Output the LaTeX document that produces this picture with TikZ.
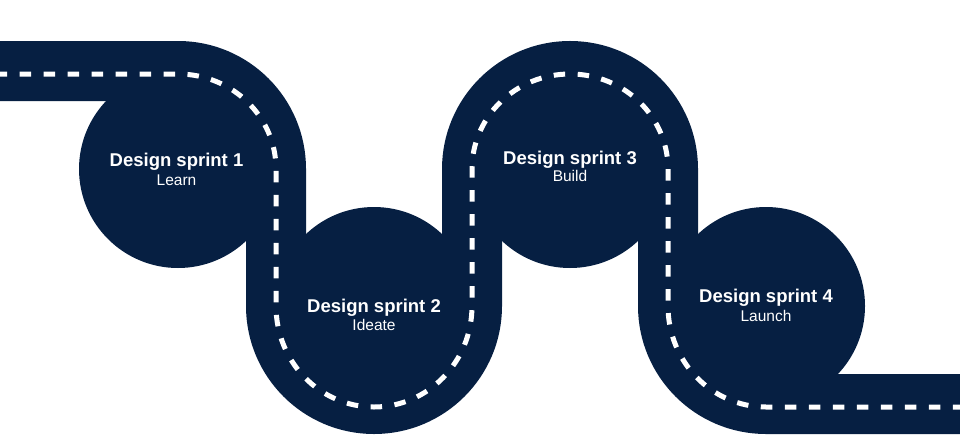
\documentclass[tikz,border=0pt]{standalone}
\usepackage{fontspec}
\setmainfont{Liberation Sans}
\definecolor{navy}{RGB}{6,31,66}
\begin{document}
\begin{tikzpicture}[x=1pt,y=-1pt,
  road/.style={draw=navy, line width=60pt},
  lane/.style={draw=white, line width=5pt, dash pattern=on 11.5pt off 12.5pt, dash phase=4.5pt},
  stop/.style={circle, fill=navy, minimum size=198pt, inner sep=0pt},
  ttl/.style={text=white, font=\bfseries\fontsize{18.5}{20}\selectfont, anchor=base, inner sep=0pt},
  sub/.style={text=white, font=\fontsize{15.5}{17}\selectfont, anchor=base, inner sep=0pt}]
\useasboundingbox (0,0) rectangle (960,434);
\coordinate (rs) at (-10,71);
\coordinate (re) at (970,404);
\coordinate (ls) at (0,74);
\coordinate (le) at (970,407);
% road
\draw[road] (rs) -- (178,71)
  arc[start angle=270, end angle=360, radius=98] -- (276,306)
  arc[start angle=180, end angle=0, radius=98] -- (472,169)
  arc[start angle=180, end angle=360, radius=98] -- (668,306)
  arc[start angle=180, end angle=90, radius=98] -- (re);
% stops
\node[stop] (c1) at (178,169) {};
\node[stop] (c2) at (374,306) {};
\node[stop] (c3) at (570,169) {};
\node[stop] (c4) at (766,306) {};
% centre line
\draw[lane] (ls) -- (178,74)
  arc[start angle=270, end angle=360, x radius=98, y radius=95] -- (276,306)
  arc[start angle=180, end angle=0, x radius=98, y radius=101] -- (472,169)
  arc[start angle=180, end angle=360, x radius=98, y radius=95] -- (668,306)
  arc[start angle=180, end angle=90, x radius=98, y radius=101] -- (le);
% labels
\node[ttl] (t1) at (176.5,166.7) {Design sprint 1};
\node[sub] (s1) at (176.5,185) {Learn};
\node[ttl] (t2) at (374,312.3) {Design sprint 2};
\node[sub] (s2) at (374,330) {Ideate};
\node[ttl] (t3) at (570,164) {Design sprint 3};
\node[sub] (s3) at (570,181.7) {Build};
\node[ttl] (t4) at (766,302.3) {Design sprint 4};
\node[sub] (s4) at (766,321) {Launch};
\end{tikzpicture}
\end{document}
